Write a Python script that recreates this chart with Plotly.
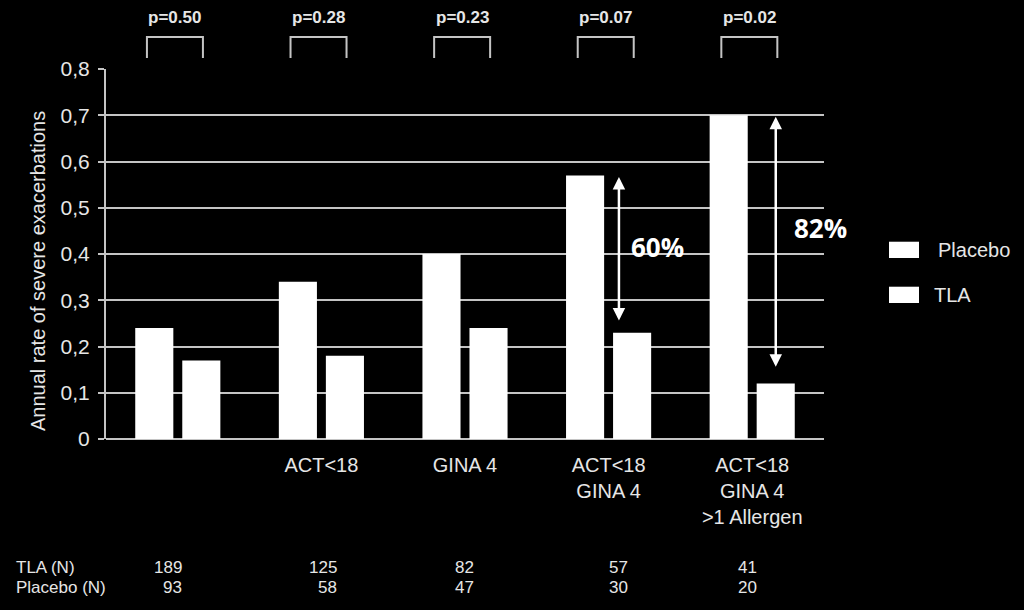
import plotly.graph_objects as go

# ---- data ----
categories = ["", "ACT&lt;18", "GINA 4", "ACT&lt;18<br>GINA 4", "ACT&lt;18<br>GINA 4<br>&gt;1 Allergen"]
placebo = [0.24, 0.34, 0.40, 0.57, 0.70]
tla = [0.17, 0.18, 0.24, 0.23, 0.12]
p_values = ["p=0.50", "p=0.28", "p=0.23", "p=0.07", "p=0.02"]
tla_n = ["189", "125", "82", "57", "41"]
placebo_n = ["93", "58", "47", "30", "20"]
reductions = ["60%", "82%"]
reduction_groups = [3, 4]
y_ticks = [0, 0.1, 0.2, 0.3, 0.4, 0.5, 0.6, 0.7, 0.8]
y_tick_text = ["0", "0,1", "0,2", "0,3", "0,4", "0,5", "0,6", "0,7", "0,8"]

# ---- layout helpers (positions, not data) ----
n_offsets = [0.04, 0.12, 0.08, 0.15, 0.05]
arrow_dx = [0.072, 0.164]
arrow_gap = [0.026, 0.036]
label_pos = [(0.34, 0.415), (0.476, 0.456)]

GRID = "#c4c4c4"
TXT = "#e6e6e6"
FONT = "Liberation Sans, Arial, sans-serif"

xs = list(range(len(categories)))

fig = go.Figure()
fig.add_trace(go.Bar(x=xs, y=placebo, name="Placebo", marker=dict(color="white", line=dict(width=0))))
fig.add_trace(go.Bar(x=xs, y=tla, name="TLA", marker=dict(color="white", line=dict(width=0))))

shapes = []
annotations = []

def px_x(px):
    return (px - 106) / 718

# p-value brackets and labels
for i, p in enumerate(p_values):
    c = i - 0.02
    shapes.append(dict(type="path", xref="x", yref="paper",
                       path=f"M {c-0.195} 1.0297 L {c-0.195} 1.0865 L {c+0.195} 1.0865 L {c+0.195} 1.0297",
                       line=dict(color=GRID, width=2)))
    annotations.append(dict(x=c, y=1.138, xref="x", yref="paper", text=f"<b>{p}</b>",
                            showarrow=False, font=dict(family=FONT, size=17, color=TXT),
                            xanchor="center", yanchor="middle"))

# double-headed arrows & reduction labels
for k, g in enumerate(reduction_groups):
    ax_x = g + arrow_dx[k]
    annotations.append(dict(x=ax_x, y=tla[g] + arrow_gap[k], ax=ax_x, ay=placebo[g],
                            xref="x", yref="y", axref="x", ayref="y", text="",
                            showarrow=True, arrowside="end+start", arrowhead=2, startarrowhead=2,
                            arrowsize=1, startarrowsize=1, arrowwidth=2.5, arrowcolor="white"))
    lx, ly = label_pos[k]
    annotations.append(dict(x=g + lx, y=ly, xref="x", yref="y", text=f"<b>{reductions[k]}</b>",
                            showarrow=False, font=dict(family="Open Sans, sans-serif", size=26, color="white"),
                            xanchor="center", yanchor="middle"))

# N table
annotations.append(dict(x=px_x(14), y=-0.346, xref="paper", yref="paper", text="TLA (N)", showarrow=False,
                        font=dict(family=FONT, size=17, color=TXT), xanchor="left", yanchor="middle"))
annotations.append(dict(x=px_x(14), y=-0.40, xref="paper", yref="paper", text="Placebo (N)",
                        showarrow=False, font=dict(family=FONT, size=17, color=TXT),
                        xanchor="left", yanchor="middle"))
for i in xs:
    annotations.append(dict(x=i + n_offsets[i], y=-0.346, xref="x", yref="paper", text=tla_n[i],
                            showarrow=False, font=dict(family=FONT, size=17, color=TXT),
                            xanchor="right", yanchor="middle"))
    annotations.append(dict(x=i + n_offsets[i], y=-0.40, xref="x", yref="paper", text=placebo_n[i],
                            showarrow=False, font=dict(family=FONT, size=17, color=TXT),
                            xanchor="right", yanchor="middle"))

# y-axis title
annotations.append(dict(x=px_x(38), y=0.454, xref="paper", yref="paper",
                        text="Annual rate of severe exacerbations", textangle=-90, showarrow=False,
                        font=dict(family=FONT, size=20, color=TXT), xanchor="center", yanchor="middle"))

# custom legend
for name, (y0, y1, ty, tx) in zip(["Placebo", "TLA"], [(0.4892, 0.5332, 0.5108, 936), (0.3676, 0.4116, 0.389, 932)]):
    shapes.append(dict(type="rect", xref="paper", yref="paper", x0=px_x(889), x1=px_x(919),
                       y0=y0, y1=y1, fillcolor="white", line=dict(width=0)))
    annotations.append(dict(x=px_x(tx), y=ty, xref="paper", yref="paper", text=name, showarrow=False,
                            font=dict(family=FONT, size=20, color=TXT), xanchor="left", yanchor="middle"))

fig.update_layout(
    width=1024, height=610,
    paper_bgcolor="black", plot_bgcolor="black",
    margin=dict(l=106, r=200, t=69, b=171),
    barmode="group", bargap=0.345, bargroupgap=0.19,
    showlegend=False,
    shapes=shapes, annotations=annotations,
    xaxis=dict(range=[-0.5, 4.5], tickvals=xs, ticktext=categories, showgrid=False, zeroline=False,
               showline=False, ticks="", ticklabelstandoff=12,
               tickfont=dict(family=FONT, size=20, color=TXT)),
    yaxis=dict(range=[0, 0.8], tickvals=y_ticks, ticktext=y_tick_text, showgrid=True, gridcolor=GRID,
               gridwidth=2, zeroline=True, zerolinecolor=GRID, zerolinewidth=2, showline=True,
               linecolor=GRID, linewidth=2, ticks="outside", ticklen=6, tickwidth=2, tickcolor=GRID,
               ticklabelstandoff=4, tickfont=dict(family=FONT, size=21, color=TXT)),
)

fig.write_html("out.html", config={"displayModeBar": False},
               post_script="document.body.style.margin='0';document.body.style.background='black';document.body.style.overflow='hidden';")
